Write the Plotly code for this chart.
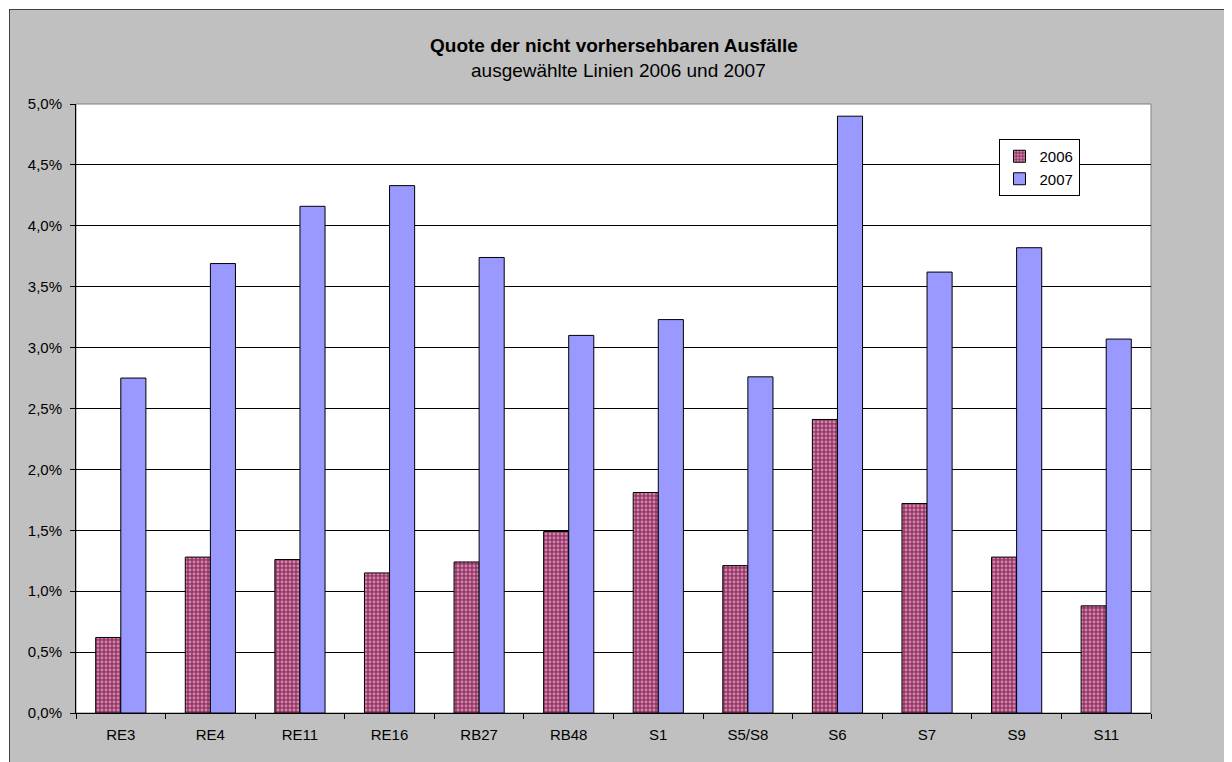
import plotly.graph_objects as go

categories = ["RE3", "RE4", "RE11", "RE16", "RB27", "RB48", "S1", "S5/S8", "S6", "S7", "S9", "S11"]
values_2006 = [0.62, 1.28, 1.26, 1.15, 1.24, 1.49, 1.81, 1.21, 2.41, 1.72, 1.28, 0.88]
values_2007 = [2.75, 3.69, 4.16, 4.33, 3.74, 3.10, 3.23, 2.76, 4.90, 3.62, 3.82, 3.07]
series_names = ["2006", "2007"]
y_ticks = [0, 0.5, 1.0, 1.5, 2.0, 2.5, 3.0, 3.5, 4.0, 4.5, 5.0]
y_tick_labels = [("%.1f" % v).replace(".", ",") + "%" for v in y_ticks]
title_text = "Quote der nicht vorhersehbaren Ausfälle"
subtitle_text = "ausgewählte Linien 2006 und 2007"

# page body has an 8px margin; work in reference pixel coords and shift
OFF = 8
W, H = 1232 - OFF, 762 - OFF
L, R, T, B = 76 - OFF, 1151 - OFF, 104 - OFF, 713 - OFF

def px_x(p):
    return (p - OFF - L) / (R - L)

def px_y(p):
    return (B - (p - OFF)) / (B - T)

fig = go.Figure()
fig.add_trace(go.Bar(
    x=categories, y=values_2006, name=series_names[0],
    marker=dict(color="#993366", line=dict(color="#000000", width=1),
                pattern=dict(shape=".", fgcolor="#F8E4EE", bgcolor="#993366", size=4, solidity=0.42)),
))
fig.add_trace(go.Bar(
    x=categories, y=values_2007, name=series_names[1],
    marker=dict(color="#9999FF", line=dict(color="#000000", width=1)),
))

fig.update_layout(
    width=W, height=H,
    margin=dict(l=L, r=W - R, t=T, b=H - B, pad=0),
    paper_bgcolor="#C0C0C0",
    plot_bgcolor="#FFFFFF",
    barmode="group",
    bargap=0.44,
    bargroupgap=0,
    font=dict(family="Liberation Sans, Arial, sans-serif", size=15, color="#000000"),
    showlegend=True,
    legend=dict(x=px_x(1039), y=px_y(139), xanchor="center", yanchor="top",
                bgcolor="#FFFFFF", bordercolor="#000000", borderwidth=1,
                font=dict(size=15), itemwidth=30, tracegroupgap=0,
                traceorder="normal"),
    xaxis=dict(
        showline=True, linecolor="#000000", linewidth=1,
        ticks="outside", ticklen=5, tickcolor="#000000", tickson="boundaries",
        showgrid=False, tickfont=dict(size=15), fixedrange=True,
        ticklabelstandoff=8,
    ),
    yaxis=dict(
        range=[0, 5.0], tickvals=y_ticks, ticktext=y_tick_labels,
        showline=True, linecolor="#000000", linewidth=1,
        ticks="outside", ticklen=5, tickcolor="#000000",
        showgrid=True, gridcolor="#000000", gridwidth=1,
        zeroline=False, tickfont=dict(size=15),
        ticklabelstandoff=5,
    ),
    shapes=[
        dict(type="rect", xref="paper", yref="paper", x0=px_x(0), x1=px_x(9), y0=px_y(800), y1=px_y(0),
             fillcolor="#FFFFFF", line=dict(width=0), layer="below"),
        dict(type="rect", xref="paper", yref="paper", x0=px_x(0), x1=px_x(1240), y0=px_y(9), y1=px_y(0),
             fillcolor="#FFFFFF", line=dict(width=0), layer="below"),
        dict(type="rect", xref="paper", yref="paper", x0=px_x(1230), x1=px_x(1240), y0=px_y(800), y1=px_y(0),
             fillcolor="#FFFFFF", line=dict(width=0), layer="below"),
        dict(type="line", xref="paper", yref="paper", x0=px_x(9), x1=px_x(1230), y0=px_y(9.5), y1=px_y(9.5),
             line=dict(color="#404040", width=1)),
        dict(type="line", xref="paper", yref="paper", x0=px_x(9.5), x1=px_x(9.5), y0=px_y(9), y1=px_y(800),
             line=dict(color="#404040", width=1)),
        dict(type="rect", xref="paper", yref="paper", x0=0, x1=1, y0=0, y1=1,
             line=dict(color="#808080", width=1), layer="below"),
    ],
    annotations=[
        dict(text="<b>" + title_text + "</b>", xref="paper", yref="paper",
             x=px_x(614), y=px_y(45), xanchor="center", yanchor="middle", showarrow=False,
             font=dict(size=19, color="#000000")),
        dict(text=subtitle_text, xref="paper", yref="paper",
             x=px_x(618), y=px_y(70), xanchor="center", yanchor="middle", showarrow=False,
             font=dict(size=19, color="#000000")),
    ],
)

fig.write_html("out.html")
